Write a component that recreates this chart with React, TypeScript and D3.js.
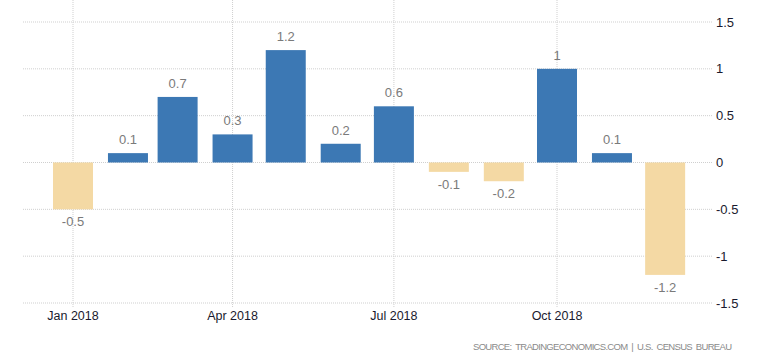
import * as d3 from "d3";

const width = 780;
const height = 363;

const months = ["2018-01", "2018-02", "2018-03", "2018-04", "2018-05", "2018-06", "2018-07", "2018-08", "2018-09", "2018-10", "2018-11", "2018-12"];
const values = [-0.5, 0.1, 0.7, 0.3, 1.2, 0.2, 0.6, -0.1, -0.2, 1, 0.1, -1.2];
const labels = ["-0.5", "0.1", "0.7", "0.3", "1.2", "0.2", "0.6", "-0.1", "-0.2", "1", "0.1", "-1.2"];
const yTicks = [1.5, 1, 0.5, 0, -0.5, -1, -1.5];
const xTicks = ["2018-01", "2018-04", "2018-07", "2018-10"];

const parse = d3.timeParse("%Y-%m");
const font = "'Liberation Sans', Arial, sans-serif";

export default function App() {
  const x = d3
    .scaleTime()
    .domain([parse("2018-01")!, parse("2018-10")!])
    .range([73, 557]);

  const y = d3.scaleLinear().domain([-1.5, 1.5]).range([303, 22]);

  const barW = 40;
  const gridLeft = 23;
  const gridRight = 713;

  return (
    <svg
      width={width}
      height={height}
      style={{ position: "absolute", left: 0, top: 0, background: "#fff" }}
      fontFamily={font}
    >
      {/* horizontal grid */}
      {yTicks.map((t) => (
        <g key={t}>
          <line
            x1={gridLeft}
            x2={gridRight}
            y1={y(t)}
            y2={y(t)}
            stroke="#cfcfcf"
            strokeDasharray="1,1"
          />
          <text x={716} y={y(t)} dy="0.35em" fontSize={13} fill="#1a1a2e">
            {t}
          </text>
        </g>
      ))}

      {/* vertical grid + month labels */}
      {xTicks.map((m) => {
        const xx = x(parse(m)!);
        return (
          <g key={m}>
            <line x1={xx} x2={xx} y1={0} y2={308} stroke="#cfcfcf" strokeDasharray="1,1" />
            <text x={xx} y={320} textAnchor="middle" fontSize={12.5} fill="#1a1a2e">
              {d3.timeFormat("%b %Y")(parse(m)!)}
            </text>
          </g>
        );
      })}

      {/* bars */}
      {months.map((m, i) => {
        const v = values[i];
        const cx = x(parse(m)!);
        const top = y(Math.max(0, v));
        const h = Math.abs(y(v) - y(0));
        return (
          <g key={m}>
            <rect
              x={cx - barW / 2}
              y={top}
              width={barW}
              height={h}
              fill={v >= 0 ? "#3c78b4" : "#f4d9a4"}
            />
            <text
              x={cx}
              y={v >= 0 ? y(v) - 9 : y(v) + 17}
              textAnchor="middle"
              fontSize={13}
              fill="#7a7a7a"
            >
              {labels[i]}
            </text>
          </g>
        );
      })}

      <text
        x={732}
        y={350}
        textAnchor="end"
        fontSize={9.5}
        fill="#8a8a8a"
        textLength={259}
        lengthAdjust="spacing"
      >
        {"SOURCE:\u00a0 TRADINGECONOMICS.COM\u00a0 |\u00a0 U.S.\u00a0 CENSUS\u00a0 BUREAU"}
      </text>
    </svg>
  );
}
